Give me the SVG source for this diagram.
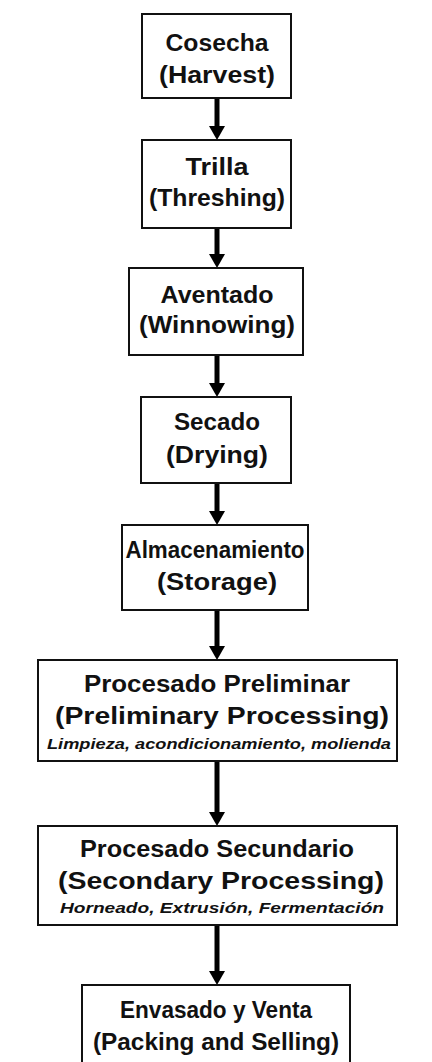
<svg xmlns="http://www.w3.org/2000/svg" width="432" height="1062" viewBox="0 0 432 1062">
  <style>
    .box { fill: #ffffff; stroke: #111111; stroke-width: 2; }
    .t { font-family: "Liberation Sans", Arial, sans-serif; font-weight: bold; font-size: 23px; fill: #111111; text-anchor: middle; }
    .s { font-family: "Liberation Sans", Arial, sans-serif; font-style: italic; font-weight: bold; font-size: 14px; fill: #111111; text-anchor: middle; }
    .shaft { stroke: #000000; stroke-width: 5; fill: none; }
    .head { fill: #000000; }
  </style>
  <rect x="0" y="0" width="432" height="1062" fill="#ffffff"/>

  <g id="connectors">
    <line class="shaft" x1="217" y1="98" x2="217" y2="128"/>
    <polygon class="head" points="209,126 225,126 217,140"/>
    <line class="shaft" x1="217" y1="228" x2="217" y2="256"/>
    <polygon class="head" points="209,254 225,254 217,268"/>
    <line class="shaft" x1="217" y1="355" x2="217" y2="385"/>
    <polygon class="head" points="209,383 225,383 217,397"/>
    <line class="shaft" x1="217" y1="483" x2="217" y2="513"/>
    <polygon class="head" points="209,511 225,511 217,525"/>
    <line class="shaft" x1="217" y1="610" x2="217" y2="648"/>
    <polygon class="head" points="209,646 225,646 217,660"/>
    <line class="shaft" x1="217" y1="761" x2="217" y2="814"/>
    <polygon class="head" points="209,812 225,812 217,826"/>
    <line class="shaft" x1="217" y1="925" x2="217" y2="973"/>
    <polygon class="head" points="209,971 225,971 217,985"/>
  </g>

  <g id="cosecha">
    <rect class="box" x="142" y="14" width="149" height="84"/>
    <text class="t" x="217" y="51" textLength="103" lengthAdjust="spacingAndGlyphs">Cosecha</text>
    <text class="t" x="217" y="83" textLength="116" lengthAdjust="spacingAndGlyphs">(Harvest)</text>
  </g>

  <g id="trilla">
    <rect class="box" x="142" y="140" width="149" height="88"/>
    <text class="t" x="217" y="175" textLength="63" lengthAdjust="spacingAndGlyphs">Trilla</text>
    <text class="t" x="217" y="206" textLength="136" lengthAdjust="spacingAndGlyphs">(Threshing)</text>
  </g>

  <g id="aventado">
    <rect class="box" x="129" y="268" width="174" height="87"/>
    <text class="t" x="217" y="303" textLength="113" lengthAdjust="spacingAndGlyphs">Aventado</text>
    <text class="t" x="217" y="333" textLength="156" lengthAdjust="spacingAndGlyphs">(Winnowing)</text>
  </g>

  <g id="secado">
    <rect class="box" x="141" y="397" width="150" height="86"/>
    <text class="t" x="217" y="430" textLength="86" lengthAdjust="spacingAndGlyphs">Secado</text>
    <text class="t" x="217" y="463" textLength="102" lengthAdjust="spacingAndGlyphs">(Drying)</text>
  </g>

  <g id="almacenamiento">
    <rect class="box" x="122" y="525" width="186" height="85"/>
    <text class="t" x="215" y="558" textLength="179" lengthAdjust="spacingAndGlyphs">Almacenamiento</text>
    <text class="t" x="217" y="590" textLength="120" lengthAdjust="spacingAndGlyphs">(Storage)</text>
  </g>

  <g id="procesado-preliminar">
    <rect class="box" x="38" y="660" width="359" height="101"/>
    <text class="t" x="217" y="692" textLength="266" lengthAdjust="spacingAndGlyphs">Procesado Preliminar</text>
    <text class="t" x="222" y="724" textLength="334" lengthAdjust="spacingAndGlyphs">(Preliminary Processing)</text>
    <text class="s" x="219" y="749" textLength="344" lengthAdjust="spacingAndGlyphs">Limpieza, acondicionamiento, molienda</text>
  </g>

  <g id="procesado-secundario">
    <rect class="box" x="38" y="826" width="359" height="99"/>
    <text class="t" x="217" y="857" textLength="274" lengthAdjust="spacingAndGlyphs">Procesado Secundario</text>
    <text class="t" x="221" y="889" textLength="326" lengthAdjust="spacingAndGlyphs">(Secondary Processing)</text>
    <text class="s" x="222" y="913" textLength="324" lengthAdjust="spacingAndGlyphs">Horneado, Extrusión, Fermentación</text>
  </g>

  <g id="envasado">
    <rect class="box" x="82" y="985" width="268" height="90"/>
    <text class="t" x="216" y="1018" textLength="192" lengthAdjust="spacingAndGlyphs">Envasado y Venta</text>
    <text class="t" x="216" y="1050" textLength="246" lengthAdjust="spacingAndGlyphs">(Packing and Selling)</text>
  </g>
</svg>
